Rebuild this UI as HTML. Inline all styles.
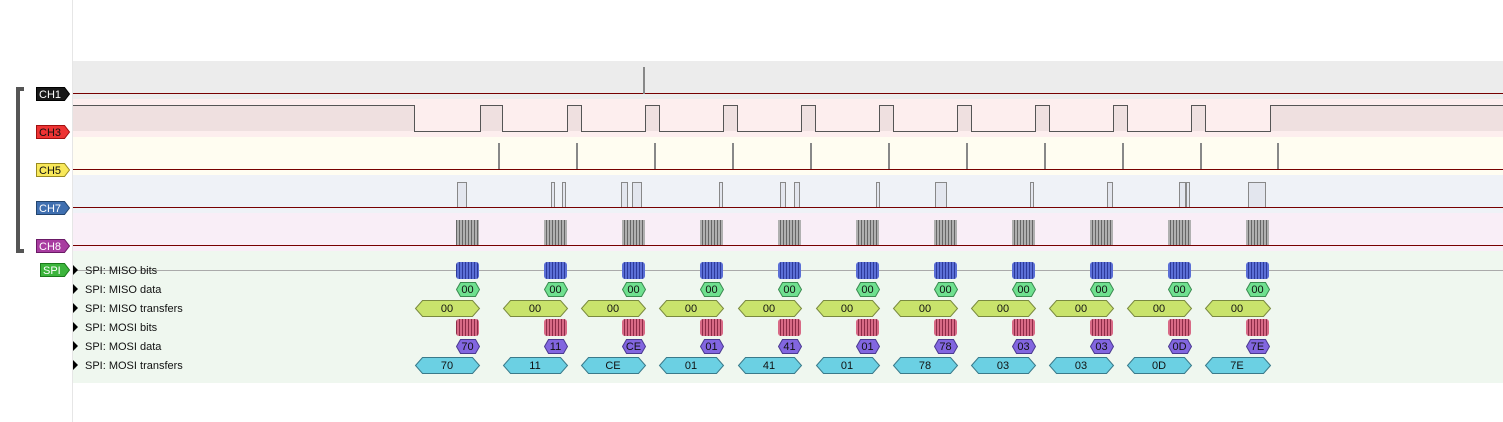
<!DOCTYPE html>
<html><head><meta charset="utf-8"><style>
html,body{margin:0;padding:0;background:#fff;width:1503px;height:422px;overflow:hidden}
svg{display:block}
text{font-family:"Liberation Sans",sans-serif;font-size:11px}
</style></head><body>
<svg width="1503" height="422" viewBox="0 0 1503 422" xmlns="http://www.w3.org/2000/svg">
<defs>
<pattern id="gb" width="3" height="10" patternUnits="userSpaceOnUse"><rect width="3" height="10" fill="#b0b0b0"/><rect width="1" height="10" fill="#666"/></pattern>
<pattern id="bb" width="3" height="10" patternUnits="userSpaceOnUse"><rect width="3" height="10" fill="#5b6fd6"/><rect width="1" height="10" fill="#2d3a9a"/></pattern>
<pattern id="rb" width="3" height="10" patternUnits="userSpaceOnUse"><rect width="3" height="10" fill="#d86a86"/><rect width="1" height="10" fill="#8e2c48"/></pattern>
</defs>
<rect x="0" y="0" width="72" height="422" fill="#fff"/>
<line x1="72.5" y1="0" x2="72.5" y2="422" stroke="#e6e6e6"/>
<!-- bands -->
<rect x="73" y="61" width="1430" height="38" fill="#ececec"/>
<rect x="73" y="99" width="1430" height="38" fill="#fdeeee"/>
<rect x="73" y="137" width="1430" height="38" fill="#fffdf1"/>
<rect x="73" y="175" width="1430" height="38" fill="#eff2f7"/>
<rect x="73" y="213" width="1430" height="38" fill="#f9eef7"/>
<rect x="73" y="251" width="1430" height="132" fill="#eff7ef"/>
<!-- CH1 -->
<line x1="73" y1="93.5" x2="1503" y2="93.5" stroke="#700"/>
<rect x="643" y="67" width="2" height="27" fill="#888"/>
<!-- CH3 -->
<g fill="#efe0e0">
<rect x="73" y="105" width="341" height="26"/><rect x="480" y="105" width="22" height="26"/><rect x="567" y="105" width="14" height="26"/><rect x="645" y="105" width="14" height="26"/><rect x="723" y="105" width="14" height="26"/><rect x="801" y="105" width="14" height="26"/><rect x="879" y="105" width="14" height="26"/><rect x="957" y="105" width="14" height="26"/><rect x="1035" y="105" width="14" height="26"/><rect x="1113" y="105" width="14" height="26"/><rect x="1191" y="105" width="14" height="26"/><rect x="1270" y="105" width="233" height="26"/>
</g>
<path d="M73 105.5H414.5V131.5H480.5V105.5H502.5V131.5H567.5V105.5H581.5V131.5H645.5V105.5H659.5V131.5H723.5V105.5H737.5V131.5H801.5V105.5H815.5V131.5H879.5V105.5H893.5V131.5H957.5V105.5H971.5V131.5H1035.5V105.5H1049.5V131.5H1113.5V105.5H1127.5V131.5H1191.5V105.5H1205.5V131.5H1270.5V105.5H1503" fill="none" stroke="#555"/>
<!-- CH5 -->
<line x1="73" y1="169.5" x2="1503" y2="169.5" stroke="#700"/>
<g fill="#888">
<rect x="498" y="143" width="2" height="26"/><rect x="576" y="143" width="2" height="26"/><rect x="654" y="143" width="2" height="26"/><rect x="732" y="143" width="2" height="26"/><rect x="810" y="143" width="2" height="26"/><rect x="888" y="143" width="2" height="26"/><rect x="966" y="143" width="2" height="26"/><rect x="1044" y="143" width="2" height="26"/><rect x="1122" y="143" width="2" height="26"/><rect x="1200" y="143" width="2" height="26"/><rect x="1277" y="143" width="2" height="26"/>
</g>
<!-- CH7 -->
<g fill="#e3e6ee" stroke="#888">
<rect x="457.5" y="182.5" width="9" height="25"/><rect x="551.5" y="182.5" width="3" height="25"/><rect x="562.5" y="182.5" width="3" height="25"/><rect x="621.5" y="182.5" width="6" height="25"/><rect x="632.5" y="182.5" width="9" height="25"/><rect x="719.5" y="182.5" width="3" height="25"/><rect x="780.5" y="182.5" width="5" height="25"/><rect x="794.5" y="182.5" width="5" height="25"/><rect x="876.5" y="182.5" width="3" height="25"/><rect x="935.5" y="182.5" width="11" height="25"/><rect x="1030.5" y="182.5" width="3" height="25"/><rect x="1107.5" y="182.5" width="5" height="25"/><rect x="1179.5" y="182.5" width="6" height="25"/><rect x="1186.5" y="182.5" width="3" height="25"/><rect x="1248.5" y="182.5" width="17" height="25"/>
</g>
<line x1="73" y1="207.5" x2="1503" y2="207.5" stroke="#700"/>
<!-- CH8 -->
<g fill="url(#gb)">
<rect x="456" y="220" width="23" height="25"/><rect x="544" y="220" width="23" height="25"/><rect x="622" y="220" width="23" height="25"/><rect x="700" y="220" width="23" height="25"/><rect x="778" y="220" width="23" height="25"/><rect x="856" y="220" width="23" height="25"/><rect x="934" y="220" width="23" height="25"/><rect x="1012" y="220" width="23" height="25"/><rect x="1090" y="220" width="23" height="25"/><rect x="1168" y="220" width="23" height="25"/><rect x="1246" y="220" width="23" height="25"/>
</g>
<line x1="73" y1="245.5" x2="1503" y2="245.5" stroke="#700"/>
<!-- SPI -->
<line x1="73" y1="270.5" x2="1503" y2="270.5" stroke="#aaa"/>
<g fill="url(#bb)">
<rect x="456" y="262" width="23" height="17" rx="3"/><rect x="544" y="262" width="23" height="17" rx="3"/><rect x="622" y="262" width="23" height="17" rx="3"/><rect x="700" y="262" width="23" height="17" rx="3"/><rect x="778" y="262" width="23" height="17" rx="3"/><rect x="856" y="262" width="23" height="17" rx="3"/><rect x="934" y="262" width="23" height="17" rx="3"/><rect x="1012" y="262" width="23" height="17" rx="3"/><rect x="1090" y="262" width="23" height="17" rx="3"/><rect x="1168" y="262" width="23" height="17" rx="3"/><rect x="1246" y="262" width="23" height="17" rx="3"/>
</g>
<g fill="url(#rb)">
<rect x="456" y="319" width="23" height="17" rx="3"/><rect x="544" y="319" width="23" height="17" rx="3"/><rect x="622" y="319" width="23" height="17" rx="3"/><rect x="700" y="319" width="23" height="17" rx="3"/><rect x="778" y="319" width="23" height="17" rx="3"/><rect x="856" y="319" width="23" height="17" rx="3"/><rect x="934" y="319" width="23" height="17" rx="3"/><rect x="1012" y="319" width="23" height="17" rx="3"/><rect x="1090" y="319" width="23" height="17" rx="3"/><rect x="1168" y="319" width="23" height="17" rx="3"/><rect x="1246" y="319" width="23" height="17" rx="3"/>
</g>
<!-- MISO data hexes -->
<g fill="#6fe08f" stroke="#3a8a50">
<path d="M456.5 289.5l4-7h15l4 7l-4 7h-15z"/><path d="M544.5 289.5l4-7h15l4 7l-4 7h-15z"/><path d="M622.5 289.5l4-7h15l4 7l-4 7h-15z"/><path d="M700.5 289.5l4-7h15l4 7l-4 7h-15z"/><path d="M778.5 289.5l4-7h15l4 7l-4 7h-15z"/><path d="M856.5 289.5l4-7h15l4 7l-4 7h-15z"/><path d="M934.5 289.5l4-7h15l4 7l-4 7h-15z"/><path d="M1012.5 289.5l4-7h15l4 7l-4 7h-15z"/><path d="M1090.5 289.5l4-7h15l4 7l-4 7h-15z"/><path d="M1168.5 289.5l4-7h15l4 7l-4 7h-15z"/><path d="M1246.5 289.5l4-7h15l4 7l-4 7h-15z"/>
</g>
<g fill="#8266e0" stroke="#4a3a90">
<path d="M456.5 346.5l4-7h15l4 7l-4 7h-15z"/><path d="M544.5 346.5l4-7h15l4 7l-4 7h-15z"/><path d="M622.5 346.5l4-7h15l4 7l-4 7h-15z"/><path d="M700.5 346.5l4-7h15l4 7l-4 7h-15z"/><path d="M778.5 346.5l4-7h15l4 7l-4 7h-15z"/><path d="M856.5 346.5l4-7h15l4 7l-4 7h-15z"/><path d="M934.5 346.5l4-7h15l4 7l-4 7h-15z"/><path d="M1012.5 346.5l4-7h15l4 7l-4 7h-15z"/><path d="M1090.5 346.5l4-7h15l4 7l-4 7h-15z"/><path d="M1168.5 346.5l4-7h15l4 7l-4 7h-15z"/><path d="M1246.5 346.5l4-7h15l4 7l-4 7h-15z"/>
</g>
<!-- transfers -->
<g fill="#c9e36c" stroke="#7a8a40">
<path d="M415.5 308.5l7-8h50l7 8l-7 8h-50z"/><path d="M503.5 308.5l7-8h50l7 8l-7 8h-50z"/><path d="M581.5 308.5l7-8h50l7 8l-7 8h-50z"/><path d="M659.5 308.5l7-8h50l7 8l-7 8h-50z"/><path d="M738.5 308.5l7-8h49l7 8l-7 8h-49z"/><path d="M816.5 308.5l7-8h49l7 8l-7 8h-49z"/><path d="M893.5 308.5l7-8h50l7 8l-7 8h-50z"/><path d="M971.5 308.5l7-8h50l7 8l-7 8h-50z"/><path d="M1049.5 308.5l7-8h50l7 8l-7 8h-50z"/><path d="M1127.5 308.5l7-8h50l7 8l-7 8h-50z"/><path d="M1205.5 308.5l7-8h51l7 8l-7 8h-51z"/>
</g>
<g fill="#6bd0e3" stroke="#3a7a8a">
<path d="M415.5 365.5l7-8h50l7 8l-7 8h-50z"/><path d="M503.5 365.5l7-8h50l7 8l-7 8h-50z"/><path d="M581.5 365.5l7-8h50l7 8l-7 8h-50z"/><path d="M659.5 365.5l7-8h50l7 8l-7 8h-50z"/><path d="M738.5 365.5l7-8h49l7 8l-7 8h-49z"/><path d="M816.5 365.5l7-8h49l7 8l-7 8h-49z"/><path d="M893.5 365.5l7-8h50l7 8l-7 8h-50z"/><path d="M971.5 365.5l7-8h50l7 8l-7 8h-50z"/><path d="M1049.5 365.5l7-8h50l7 8l-7 8h-50z"/><path d="M1127.5 365.5l7-8h50l7 8l-7 8h-50z"/><path d="M1205.5 365.5l7-8h51l7 8l-7 8h-51z"/>
</g>
<g text-anchor="middle" fill="#111">
<text x="467.5" y="293">00</text><text x="555.5" y="293">00</text><text x="633.5" y="293">00</text><text x="711.5" y="293">00</text><text x="789.5" y="293">00</text><text x="867.5" y="293">00</text><text x="945.5" y="293">00</text><text x="1023.5" y="293">00</text><text x="1101.5" y="293">00</text><text x="1179.5" y="293">00</text><text x="1257.5" y="293">00</text>
<text x="447" y="312">00</text><text x="535" y="312">00</text><text x="613" y="312">00</text><text x="691" y="312">00</text><text x="769" y="312">00</text><text x="847" y="312">00</text><text x="925" y="312">00</text><text x="1003" y="312">00</text><text x="1081" y="312">00</text><text x="1159" y="312">00</text><text x="1237" y="312">00</text>
<text x="467.5" y="350">70</text><text x="555.5" y="350">11</text><text x="633.5" y="350">CE</text><text x="711.5" y="350">01</text><text x="789.5" y="350">41</text><text x="867.5" y="350">01</text><text x="945.5" y="350">78</text><text x="1023.5" y="350">03</text><text x="1101.5" y="350">03</text><text x="1179.5" y="350">0D</text><text x="1257.5" y="350">7E</text>
<text x="447" y="369">70</text><text x="535" y="369">11</text><text x="613" y="369">CE</text><text x="691" y="369">01</text><text x="769" y="369">41</text><text x="847" y="369">01</text><text x="925" y="369">78</text><text x="1003" y="369">03</text><text x="1081" y="369">03</text><text x="1159" y="369">0D</text><text x="1237" y="369">7E</text>
</g>
<!-- bracket -->
<path d="M24 89H18V251H24" fill="none" stroke="#555" stroke-width="4"/>
<!-- channel labels -->
<g stroke-width="1">
<path d="M36.5 87.5h28l5 6.5l-5 6.5h-28z" fill="#181818" stroke="#000"/>
<path d="M36.5 125.5h28l5 6.5l-5 6.5h-28z" fill="#ee3333" stroke="#a01010"/>
<path d="M36.5 163.5h28l5 6.5l-5 6.5h-28z" fill="#f8e85a" stroke="#998a20"/>
<path d="M36.5 201.5h28l5 6.5l-5 6.5h-28z" fill="#3f6fb0" stroke="#23456e"/>
<path d="M36.5 239.5h28l5 6.5l-5 6.5h-28z" fill="#a83ca0" stroke="#6a1a66"/>
<path d="M40.5 263.5h24l5 6.5l-5 6.5h-24z" fill="#3cb43c" stroke="#1a7a1a"/>
</g>
<text x="39" y="98" fill="#fff">CH1</text>
<text x="39" y="136" fill="#111">CH3</text>
<text x="39" y="174" fill="#111">CH5</text>
<text x="39" y="212" fill="#fff">CH7</text>
<text x="39" y="250" fill="#fff">CH8</text>
<text x="43" y="274" fill="#fff">SPI</text>
<g fill="#000">
<path d="M73 265l5 5l-5 5z"/><path d="M73 284l5 5l-5 5z"/><path d="M73 303l5 5l-5 5z"/><path d="M73 322l5 5l-5 5z"/><path d="M73 341l5 5l-5 5z"/><path d="M73 360l5 5l-5 5z"/>
</g>
<g fill="#111">
<text x="85" y="274">SPI: MISO bits</text>
<text x="85" y="293">SPI: MISO data</text>
<text x="85" y="312">SPI: MISO transfers</text>
<text x="85" y="331">SPI: MOSI bits</text>
<text x="85" y="350">SPI: MOSI data</text>
<text x="85" y="369">SPI: MOSI transfers</text>
</g>
</svg>
</body></html>
